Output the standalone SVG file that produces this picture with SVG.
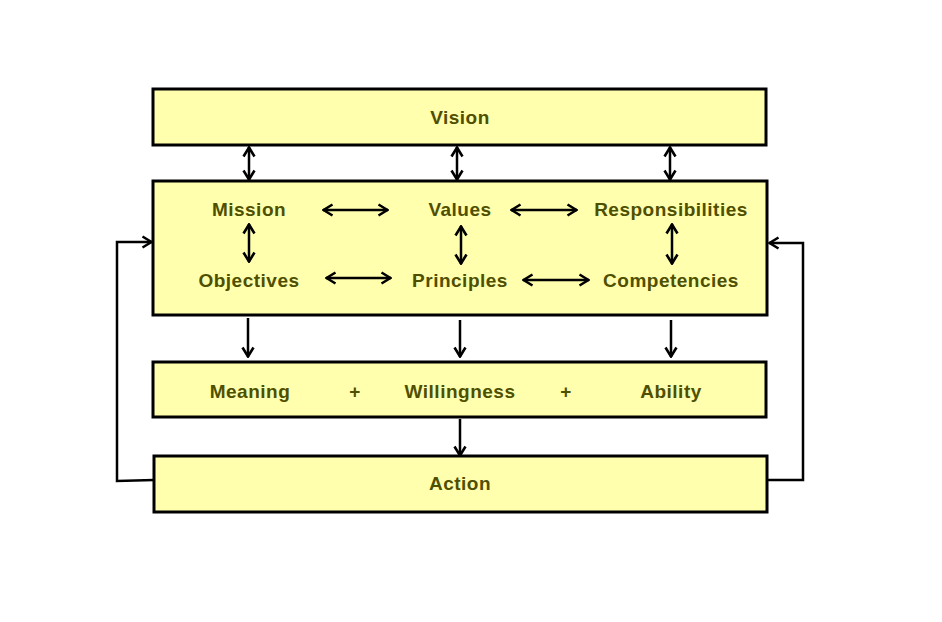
<svg xmlns="http://www.w3.org/2000/svg" width="942" height="622" viewBox="0 0 942 622">
<defs>
<marker id="ah" viewBox="0 0 12 14" refX="11" refY="7" markerWidth="12" markerHeight="14" markerUnits="userSpaceOnUse" orient="auto-start-reverse">
<path d="M1.5,1.5 L10.5,7 L1.5,12.5" fill="none" stroke="#000" stroke-width="2.6"/>
</marker>
</defs>
<style>
.box{fill:#FFFFAD;stroke:#000;stroke-width:3}
.t{font-family:"Liberation Sans",Arial,sans-serif;font-weight:bold;font-size:19px;letter-spacing:0.5px;fill:#4F4F00;text-anchor:middle}
.c{fill:none;stroke:#000;stroke-width:2.5}
.a{marker-end:url(#ah)}
.d{marker-start:url(#ah);marker-end:url(#ah)}
</style>
<rect width="942" height="622" fill="#fff"/>
<g id="vision"><rect class="box" x="153" y="89" width="613" height="56"/><text class="t" x="460" y="124">Vision</text></g>
<g id="middle"><rect class="box" x="153" y="181" width="614" height="134"/>
<text class="t" x="249" y="216">Mission</text>
<text class="t" x="460" y="216">Values</text>
<text class="t" x="671" y="216">Responsibilities</text>
<text class="t" x="249" y="287">Objectives</text>
<text class="t" x="460" y="287">Principles</text>
<text class="t" x="671" y="287">Competencies</text>
</g>
<g id="mwa"><rect class="box" x="153" y="362" width="613" height="55"/>
<text class="t" x="250" y="398">Meaning</text>
<text class="t" x="355" y="398">+</text>
<text class="t" x="460" y="398">Willingness</text>
<text class="t" x="566" y="398">+</text>
<text class="t" x="671" y="398">Ability</text>
</g>
<g id="action"><rect class="box" x="154" y="456" width="613" height="56"/><text class="t" x="460" y="490">Action</text></g>
<g id="connectors">
<line class="c d" x1="249" y1="147" x2="249" y2="180"/>
<line class="c d" x1="457" y1="147" x2="457" y2="180"/>
<line class="c d" x1="670" y1="147" x2="670" y2="180"/>
<line class="c d" x1="323" y1="210" x2="388" y2="210"/>
<line class="c d" x1="511" y1="210" x2="577" y2="210"/>
<line class="c d" x1="326" y1="278" x2="391" y2="278"/>
<line class="c d" x1="523" y1="280" x2="589" y2="280"/>
<line class="c d" x1="249" y1="224" x2="249" y2="262"/>
<line class="c d" x1="461" y1="226" x2="461" y2="264"/>
<line class="c d" x1="672" y1="224" x2="672" y2="264"/>
<line class="c a" x1="248" y1="318" x2="248" y2="357"/>
<line class="c a" x1="460" y1="320" x2="460" y2="357"/>
<line class="c a" x1="671" y1="320" x2="671" y2="357"/>
<line class="c a" x1="460" y1="419" x2="460" y2="456"/>
<polyline class="c a" points="154,480 117,481 117,242 152,242"/>
<polyline class="c a" points="767,480 803,480 803,243 769,243"/>
</g>
</svg>
